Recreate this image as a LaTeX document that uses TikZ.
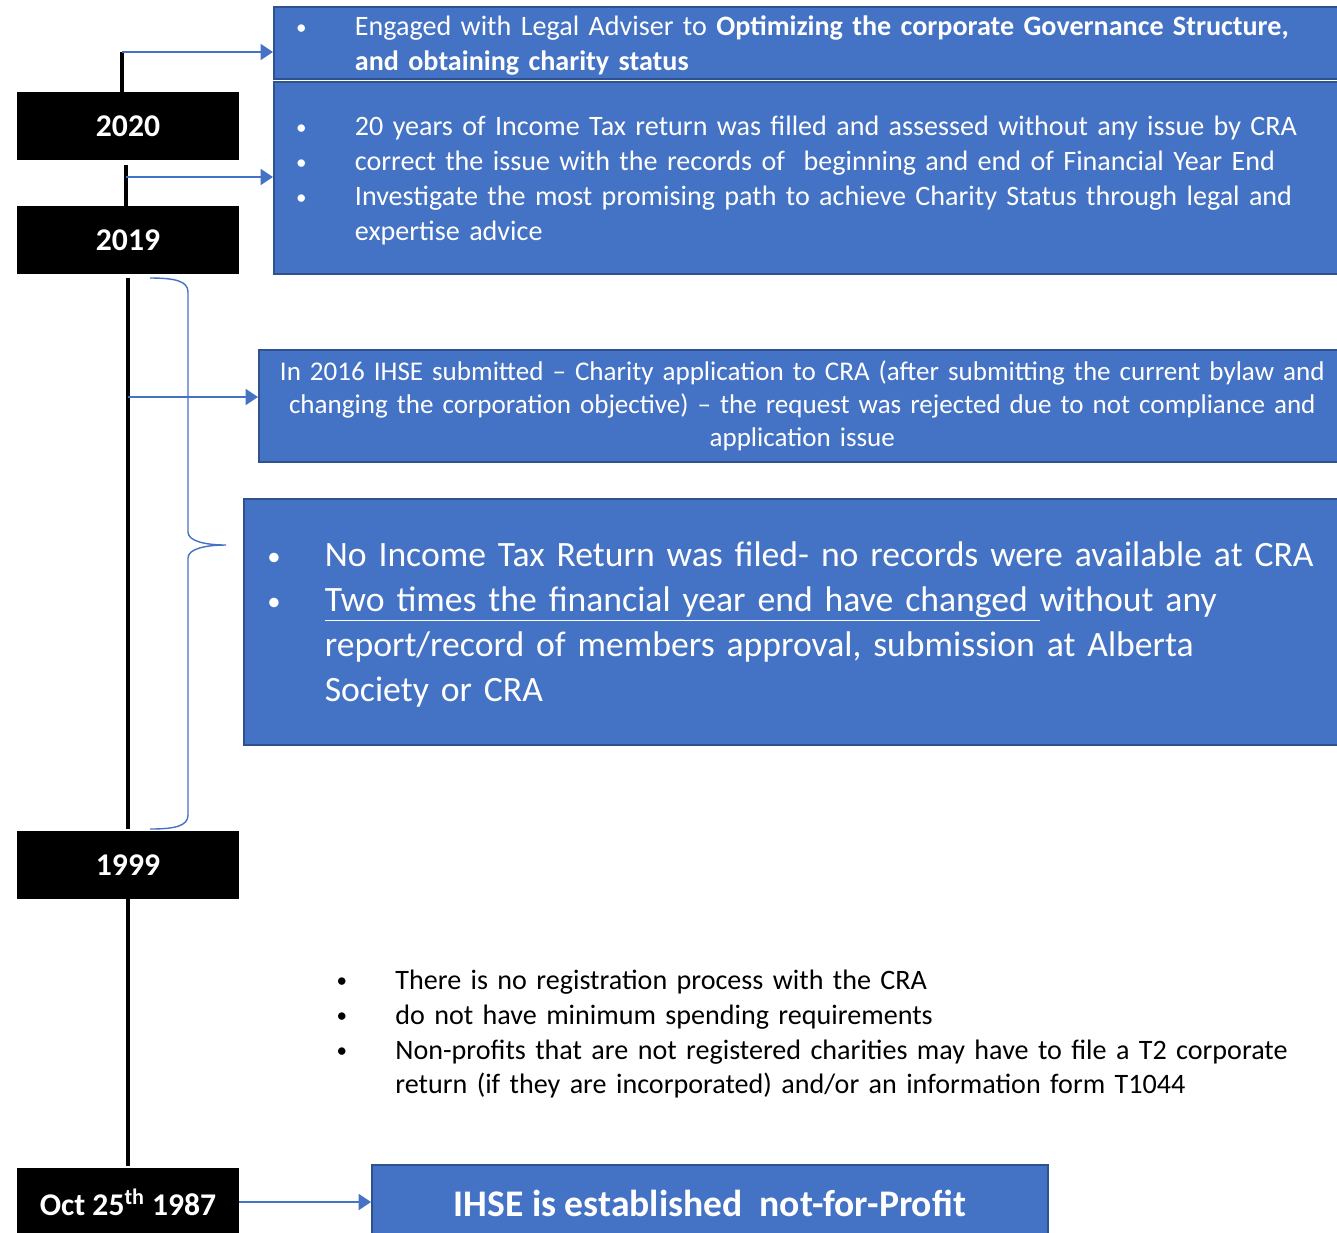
\documentclass[tikz,border=0pt]{standalone}
\usepackage{fontspec}
\setmainfont{Carlito}
\usetikzlibrary{arrows.meta, positioning, calc}
\definecolor{notefill}{HTML}{4472C4}
\definecolor{noteedge}{HTML}{2F528F}
\newlength{\bulw}
\setlength{\bulw}{31.9pt}
\newcommand{\bitem}[1]{\noindent\hangindent=\bulw\hangafter=1%
    \makebox[\bulw][l]{\hspace{-0.1em}\raisebox{0.05em}{\scalebox{0.75}{\textbullet}}}#1\par}

\begin{document}
\begin{tikzpicture}[x=0.02cm, y=-0.02cm, >={Triangle[length=7pt, width=9pt]},
    yearbox/.style={fill=black, text=white, minimum width=4.44cm, minimum height=1.36cm,
        inner sep=0pt, font=\fontsize{18}{22}\selectfont\bfseries},
    notebox/.style={draw=noteedge, line width=1pt, fill=notefill, text=white,
        anchor=north west, align=left, inner ysep=0pt},
    stem/.style={black, line width=2.3pt},
    link/.style={notefill, line width=1.2pt, ->}]
    \useasboundingbox (0,0) rectangle (1337,1232);
    % years
    \node[yearbox] (y2020) at (128,126) {2020};
    \node[yearbox] (y2019) at (128,240) {2019};
    \node[yearbox] (y1999) at (128,865) {1999};
    \node[yearbox] (y1987) at (128,1202) {Oct 25\textsuperscript{th} 1987};
    % notes
    \node[notebox, minimum height=1.44cm, text width=20.44cm, inner xsep=0.5cm,
        font=\fontsize{16}{19.9}\selectfont] (n2020) at (273,6)
        {\bitem{Engaged with Legal Adviser to \textbf{Optimizing the corporate Governance Structure,}\newline\textbf{and obtaining charity status}}\vspace{-0.12cm}};
    \node[notebox, minimum height=3.84cm, text width=20.44cm, inner xsep=0.5cm,
        font=\fontsize{16}{19.9}\selectfont] (n2019) at (273,81)
        {\bitem{20 years of Income Tax return was filled and assessed without any issue by CRA}
         \bitem{correct the issue with the records of \ beginning and end of Financial Year End}
         \bitem{Investigate the most promising path to achieve Charity Status through legal and\newline expertise advice}\vspace{-0.12cm}};
    \node[notebox, minimum height=2.24cm, text width=21.14cm, inner xsep=0.3cm, align=center,
        font=\fontsize{15.4}{19}\selectfont] (n2016) at (258,349)
        {In 2016 IHSE submitted -- Charity application to CRA (after submitting the current bylaw and\\
         changing the corporation objective) -- the request was rejected due to not compliance and\\
         application issue};
    \node[notebox, minimum height=4.92cm, text width=20.96cm, inner xsep=0.54cm,
        font=\fontsize{20.3}{25.6}\selectfont] (nrecords) at (243,498)
        {\setlength{\bulw}{30.7pt}%
         \bitem{No Income Tax Return was filed- no records were available at CRA}
         \bitem{\underline{Two times the financial year end have changed\ }without any\newline
         report/record of members approval, submission at Alberta\newline Society or CRA}\vspace{-0.12cm}};
    \node[notebox, minimum width=13.52cm, minimum height=1.56cm, align=center,
        font=\fontsize{21.4}{24}\selectfont\bfseries] (n1987) at (371,1164)
        {IHSE is established\ \ not-for-Profit};
    \node[anchor=west, text width=20cm, align=left, inner sep=0pt,
        font=\fontsize{16}{19.9}\selectfont] (nonprofit) at (339,1034)
        {\bitem{There is no registration process with the CRA}
         \bitem{do not have minimum spending requirements}
         \bitem{Non-profits that are not registered charities may have to file a T2 corporate\newline
         return (if they are incorporated) and/or an information form T1044}};
    % timeline
    \coordinate (top) at (122,52);
    \coordinate (fork19) at (126,177);
    \coordinate (fork16) at (128,397);
    \draw[stem] (top) -- (top |- y2020.north);
    \draw[stem] ([shift={(-2,5)}]y2020.south) -- ([xshift=-2*0.02cm]y2019.north);
    \draw[stem] ([yshift=-4*0.02cm]y2019.south) -- ([yshift=2*0.02cm]y1999.north);
    \draw[stem] (y1999.south) -- ([yshift=2*0.02cm]y1987.north);
    \draw[link] (top) -- (top -| n2020.west);
    \draw[link] (fork19) -- (fork19 -| n2019.west);
    \draw[link] (fork16) -- (fork16 -| n2016.west);
    \draw[link] (y1987.east) -- (y1987.east -| n1987.west);
    % brace over 1999 - 2019
    \draw[notefill, line width=0.8pt] (150,278) .. controls (175,278) and (188,281) .. (188,292)
        -- (188,532) .. controls (188,541) and (205,545) .. (226,545)
        .. controls (205,545) and (188,549) .. (188,558)
        -- (188,815) .. controls (188,826) and (175,829) .. (150,829);
\end{tikzpicture}
\end{document}
